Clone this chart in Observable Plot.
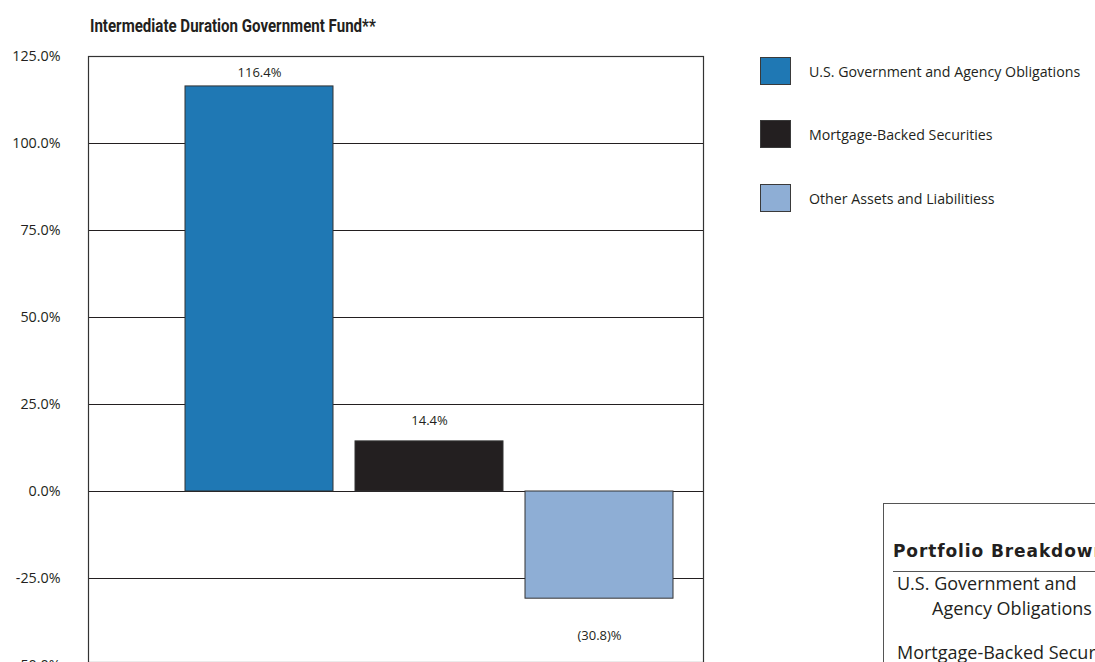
<!DOCTYPE html>
<html>
<head>
<meta charset="utf-8">
<script src="https://cdn.jsdelivr.net/npm/d3@7"></script>
<script src="https://cdn.jsdelivr.net/npm/@observablehq/plot@0.6"></script>
<style>
  html, body { margin: 0; padding: 0; background: #fff; }
  body { width: 1095px; height: 662px; overflow: hidden; position: relative; font-family: "Open Sans", Lato, sans-serif; color: #231f20; }
  #title { position: absolute; left: 90px; top: 15px; font-family: Roboto, sans-serif; font-weight: 700; font-size: 18.5px; white-space: nowrap; transform: scaleX(0.815); transform-origin: left top; }
  #chart { position: absolute; left: 0; top: 0; }
  .leg { position: absolute; left: 760px; display: flex; align-items: center; }
  .sw { width: 29px; height: 26px; border: 1.5px solid #3a3a3a; }
  .lt { position: absolute; left: 49px; white-space: nowrap; font-size: 14.2px; }
  #box { position: absolute; left: 883px; top: 503px; width: 400px; height: 300px; border-left: 1.5px solid #555; border-top: 1.5px solid #555; }
  #box .h { position: absolute; left: 9px; top: 37px; font-family: "DejaVu Sans", sans-serif; font-weight: bold; font-size: 17px; letter-spacing: 0.9px; white-space: nowrap; }
  #box .rule { position: absolute; left: 9px; top: 67px; width: 400px; border-top: 1.5px solid #555; }
  #box .r { position: absolute; white-space: nowrap; font-size: 18px; }
</style>
</head>
<body>
<div id="title">Intermediate Duration Government Fund**</div>
<div id="chart"></div>
<div id="legend"></div>
<div id="box">
  <div class="h">Portfolio Breakdown</div>
  <div class="rule"></div>
  <div class="r" style="left:13px; top:67px;">U.S. Government and</div>
  <div class="r" style="left:48px; top:92px;">Agency Obligations</div>
  <div class="r" style="left:13px; top:136px;">Mortgage-Backed Securities</div>
</div>
<script>
const categories = ["U.S. Government and Agency Obligations", "Mortgage-Backed Securities", "Other Assets and Liabilitiess"];
const values = [116.4, 14.4, -30.8];
const labels = ["116.4%", "14.4%", "(30.8)%"];
const colors = ["#1f78b4", "#231f20", "#8eaed5"];
const yTicks = [-50, -25, 0, 25, 50, 75, 100, 125];

const data = categories.map((c, i) => ({category: c, value: values[i], label: labels[i], color: colors[i]}));

const chart = Plot.plot({
  width: 720,
  height: 662,
  marginTop: 56,
  marginBottom: 0,
  marginLeft: 88,
  marginRight: 17,
  x: {domain: categories, range: [185, 673], paddingInner: 22 / 170, paddingOuter: 0, axis: null},
  y: {domain: [-50, 125], range: [665, 56], ticks: yTicks, tickFormat: d => d.toFixed(1) + "%", tickSize: 0, tickPadding: 27, label: null},
  style: {fontFamily: "'Open Sans', Lato, sans-serif", fontSize: "14.5px", color: "#231f20", overflow: "visible"},
  marks: [
    Plot.ruleY(yTicks, {stroke: "#231f20", strokeWidth: 1.1}),
    Plot.barY(data, {x: "category", y: "value", fill: d => d.color, stroke: "#333", strokeWidth: 1}),
    Plot.text(data.filter((d, i) => i === 0), {x: "category", y: "value", text: "label", dy: -14, fontSize: 13, fill: "#231f20"}),
    Plot.text(data.filter((d, i) => i === 1), {x: "category", y: "value", text: "label", dy: -21, fontSize: 13, fill: "#231f20"}),
    Plot.text(data.filter((d, i) => i === 2), {x: "category", y: "value", text: "label", dy: 37, fontSize: 13, fill: "#231f20"}),
    Plot.frame({stroke: "#333", strokeWidth: 1.2}),
    Plot.axisY({ticks: yTicks, tickFormat: d => d.toFixed(1) + "%", tickSize: 0, tickPadding: 28, fontSize: 14.3, label: null})
  ]
});
document.getElementById("chart").appendChild(chart);

const leg = document.getElementById("legend");
const legTops = [57, 120, 184];
categories.forEach((c, i) => {
  const row = document.createElement("div");
  row.className = "leg";
  row.style.top = legTops[i] + "px";
  row.innerHTML = `<div class="sw" style="background:${colors[i]}"></div><div class="lt">${c}</div>`;
  leg.appendChild(row);
});
</script>
</body>
</html>
